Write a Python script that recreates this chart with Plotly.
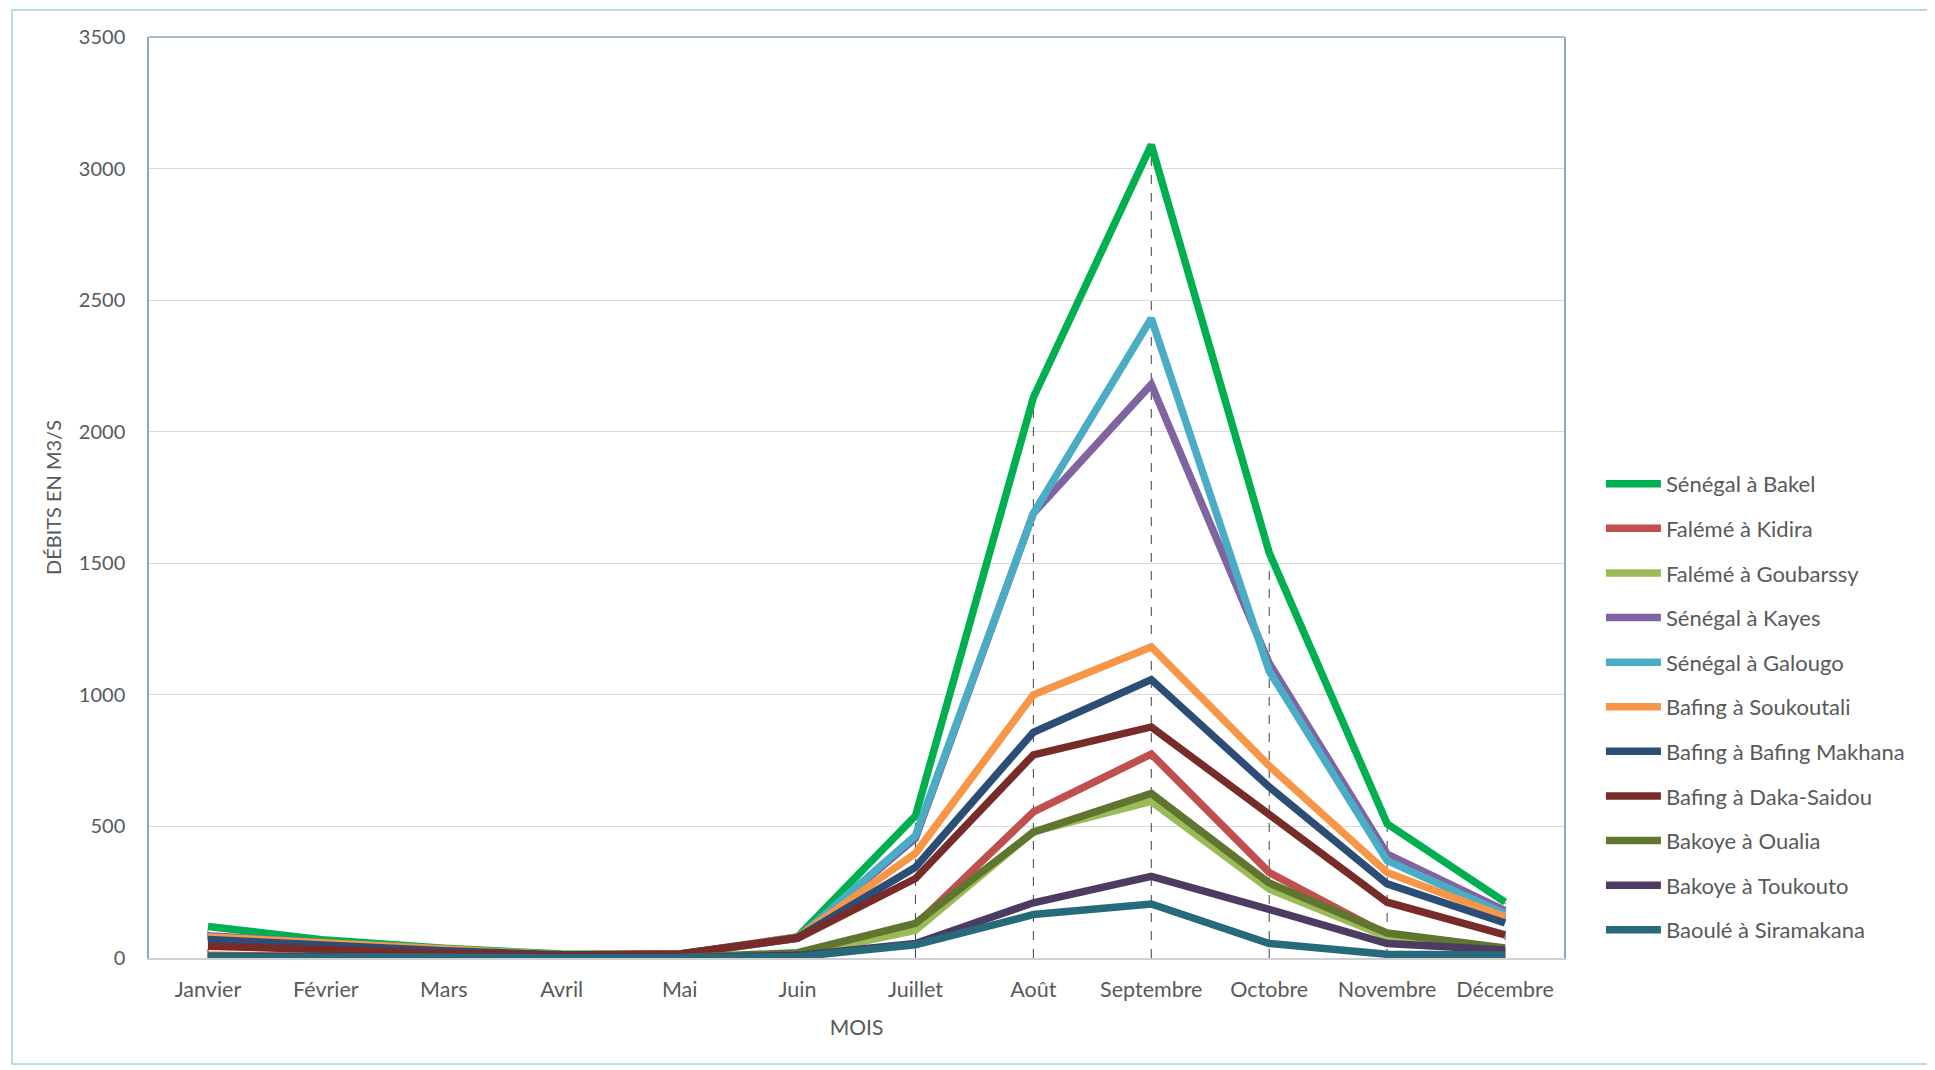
import plotly.graph_objects as go

months = ["Janvier", "Février", "Mars", "Avril", "Mai", "Juin", "Juillet",
          "Août", "Septembre", "Octobre", "Novembre", "Décembre"]

senegal_bakel      = [120, 68, 37, 15, 12, 80, 540, 2130, 3090, 1540, 510, 212]
faleme_kidira      = [10, 5, 2, 1, 1, 15, 125, 555, 775, 325, 88, 28]
faleme_goubarssy   = [5, 3, 1, 0, 1, 10, 105, 480, 595, 262, 80, 25]
senegal_kayes      = [85, 55, 30, 12, 12, 75, 455, 1690, 2180, 1120, 395, 180]
senegal_galougo    = [80, 50, 28, 12, 12, 75, 465, 1690, 2430, 1090, 370, 168]
bafing_soukoutali  = [80, 55, 30, 12, 15, 80, 398, 1000, 1182, 730, 325, 156]
bafing_makhana     = [70, 48, 28, 12, 15, 78, 345, 858, 1058, 650, 282, 133]
bafing_daka        = [45, 30, 18, 10, 15, 75, 302, 772, 878, 545, 212, 88]
bakoye_oualia      = [8, 4, 2, 1, 2, 20, 132, 478, 625, 285, 95, 38]
bakoye_toukouto    = [5, 3, 1, 0, 1, 10, 55, 210, 310, 185, 55, 30]
baoule_siramakana  = [3, 1, 0, 0, 0, 5, 50, 165, 205, 55, 14, 11]

series_names = ["Sénégal à Bakel", "Falémé à Kidira", "Falémé à Goubarssy",
                "Sénégal à Kayes", "Sénégal à Galougo", "Bafing à Soukoutali",
                "Bafing à Bafing Makhana", "Bafing à Daka-Saidou",
                "Bakoye à Oualia", "Bakoye à Toukouto", "Baoulé à Siramakana"]
series_values = [senegal_bakel, faleme_kidira, faleme_goubarssy, senegal_kayes,
                 senegal_galougo, bafing_soukoutali, bafing_makhana, bafing_daka,
                 bakoye_oualia, bakoye_toukouto, baoule_siramakana]
series_colors = ["#00B050", "#C0504D", "#9BBB59", "#8064A2", "#4BACC6", "#F79646",
                 "#2C4D75", "#772C2A", "#5F7530", "#4D3B62", "#276A7C"]

y_ticks = [0, 500, 1000, 1500, 2000, 2500, 3000, 3500]

FONT = "Lato"
TXT = "#595959"

fig = go.Figure()

# Drop lines (from highest value of each month down to the axis)
dx, dy = [], []
for i, m in enumerate(months):
    top = max(v[i] for v in series_values)
    dx += [m, m, None]
    dy += [0, top, None]
fig.add_trace(go.Scatter(x=dx, y=dy, mode="lines", showlegend=False,
                         hoverinfo="skip",
                         line=dict(color="#404040", width=1, dash="dash")))

for name, vals, col in zip(series_names, series_values, series_colors):
    fig.add_trace(go.Scatter(x=months, y=vals, name=name, mode="lines",
                             legendgroup=name,
                             line=dict(color=col, width=7.5)))

fig.update_layout(
    width=1935, height=1070,
    margin=dict(l=141, r=379, t=29, b=120),
    paper_bgcolor="white", plot_bgcolor="white",
    font=dict(family=FONT, color=TXT, size=20),
    showlegend=True,
    legend=dict(x=1.0261, y=0.5375, xanchor="left", yanchor="top",
                font=dict(family=FONT, size=22, color=TXT),
                itemwidth=55,
                tracegroupgap=13, bgcolor="rgba(0,0,0,0)"),
    xaxis=dict(type="category", categoryorder="array", categoryarray=months,
               range=[-0.5, 11.5], showgrid=False, showline=True,
               linecolor="#D0D0D0", linewidth=1.5, ticks="",
               tickfont=dict(size=21.5, color=TXT), ticklabelstandoff=11,
               title=dict(text="MOIS", font=dict(size=21, color=TXT), standoff=20)),
    yaxis=dict(range=[0, 3500], tickvals=y_ticks, showgrid=True,
               gridcolor="#D9D9D9", gridwidth=1, zeroline=False,
               showline=True, linecolor="#8BA6BF", linewidth=1.5, mirror=True,
               ticks="", tickfont=dict(size=20, color=TXT), ticklabelstandoff=18,
               title=dict(text="DÉBITS EN M3/S", font=dict(size=20, color=TXT),
                          standoff=12)),
    shapes=[
        dict(type="line", xref="paper", yref="paper", x0=0, x1=1, y0=1, y1=1,
             line=dict(color="#8BA6BF", width=1.5)),
        dict(type="rect", xref="paper", yref="paper", x0=-0.0968, x1=1.2594,
             y0=-0.1151, y1=1.0293, line=dict(color="#A3D0DE", width=1.5),
             layer="below"),
    ],
)

fig.write_html("out.html")
